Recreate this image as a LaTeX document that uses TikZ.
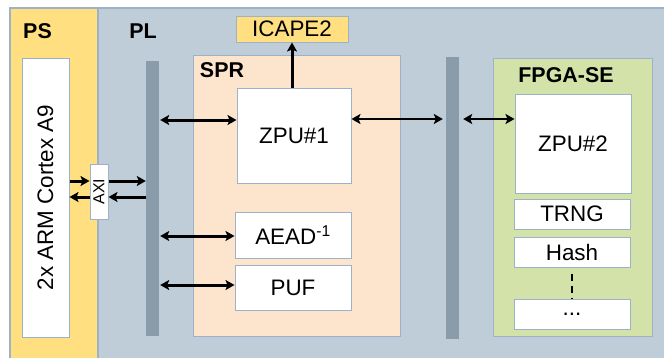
\documentclass[tikz,border=0pt]{standalone}
\usepackage{graphicx}
\usepackage{xcolor}
\usepackage{fontspec}
\setmainfont{Liberation Sans}
\usetikzlibrary{arrows.meta}

\definecolor{psyellow}{HTML}{FFDF80}
\definecolor{plgray}{HTML}{BFCDD8}
\definecolor{sprpeach}{HTML}{FDE4CC}
\definecolor{segreen}{HTML}{D3E2A8}
\definecolor{barcol}{HTML}{8A9BA9}
\definecolor{edgecol}{HTML}{9DB2C6}

\tikzset{
  blk/.style={draw=edgecol, line width=1bp, fill=white, inner sep=0pt,
              font=\fontsize{22.5}{26}\selectfont},
  area/.style={draw=edgecol, line width=1bp, inner sep=0pt},
  bar/.style={fill=barcol, inner sep=0pt},
  lbl/.style={inner sep=0pt, font=\fontsize{21.5}{25}\selectfont\bfseries},
  link/.style={line width=3bp, -{Stealth[length=9bp,width=10bp,inset=2bp]}},
  dlink/.style={line width=3bp, {Stealth[length=9bp,width=10bp,inset=2bp]}-{Stealth[length=9bp,width=10bp,inset=2bp]}},
}

\begin{document}
\begin{tikzpicture}[x=1bp,y=-1bp]

\useasboundingbox (0,0) rectangle (664,357);

% PS and PL
\filldraw[fill=plgray, draw=edgecol, line width=1.5bp] (10,8) rectangle (690,380);
\filldraw[fill=psyellow, draw=edgecol, line width=1.5bp] (10,8) rectangle (98,380);
\node[lbl] (pslbl) at (37.5,31) {PS};
\node[lbl] (pllbl) at (143,31) {PL};

\node[blk, minimum width=47bp, minimum height=279bp] (arm) at (45.5,197.5)
  {\rotatebox{90}{2x ARM Cortex A9}};
\node[blk, minimum width=18bp, minimum height=55bp, font=\fontsize{16}{18}\selectfont] (axi) at (99,191.5)
  {\rotatebox{90}{AXI}};

% buses
\node[bar, minimum width=13bp, minimum height=275bp] (bus1) at (152.5,198.5) {};
\node[bar, minimum width=13bp, minimum height=282bp] (bus2) at (452.5,198) {};

% SPR
\node[area, fill=sprpeach, minimum width=207bp, minimum height=281bp] (spr) at (296.5,195.5) {};
\node[lbl] (sprlbl) at (222,70) {SPR};
\node[blk, fill=psyellow, minimum width=112bp, minimum height=26bp] (icape) at (292,29) {ICAPE2};
\node[blk, minimum width=114bp, minimum height=95bp] (zpu1) at (294,135.5) {ZPU\#1};
\node[blk, minimum width=116bp, minimum height=46bp] (aead) at (293,235) {AEAD\textsuperscript{-1}};
\node[blk, minimum width=116bp, minimum height=45bp] (puf) at (293,287.5) {PUF};

% FPGA-SE
\node[area, fill=segreen, minimum width=159bp, minimum height=278bp] (fpga) at (572.5,197) {};
\node[lbl] (fpgalbl) at (566,75) {FPGA-SE};
\node[blk, minimum width=116bp, minimum height=99bp] (zpu2) at (573,143.5) {ZPU\#2};
\node[blk, minimum width=116bp, minimum height=30bp] (trng) at (572,214) {TRNG};
\node[blk, minimum width=116bp, minimum height=30bp] (hash) at (572,252) {Hash};
\node[blk, minimum width=116bp, minimum height=30bp] (more) at (572,314) {...};

% connections
\draw[link] (arm.east |- 0,181) -- (axi.west |- 0,181);
\draw[link] (axi.west |- 0,197) -- (arm.east |- 0,197);
\draw[link] (axi.east |- 0,181) -- (bus1.west |- 0,181);
\draw[link] (bus1.west |- 0,197) -- (axi.east |- 0,197);

\draw[dlink] ([xshift=1bp]bus1.east |- 0,120) -- (zpu1.west |- 0,120);
\draw[dlink] ([xshift=1bp]bus1.east |- 0,236) -- (aead.west |- 0,236);
\draw[dlink] ([xshift=1bp]bus1.east |- 0,285) -- (puf.west |- 0,285);

\draw[dlink, line width=2.2bp] (zpu1.east |- 0,119) -- ([xshift=-3bp]bus2.west |- 0,119);
\draw[dlink, line width=2.2bp] ([xshift=4bp]bus2.east |- 0,119) -- (zpu2.west |- 0,119);

\draw[link] (zpu1.north -| icape.south) -- (icape.south);
\draw[line width=1.5bp, dash pattern=on 7bp off 5bp] (hash.south) ++(0,6) -- (more.north);

\end{tikzpicture}
\end{document}
